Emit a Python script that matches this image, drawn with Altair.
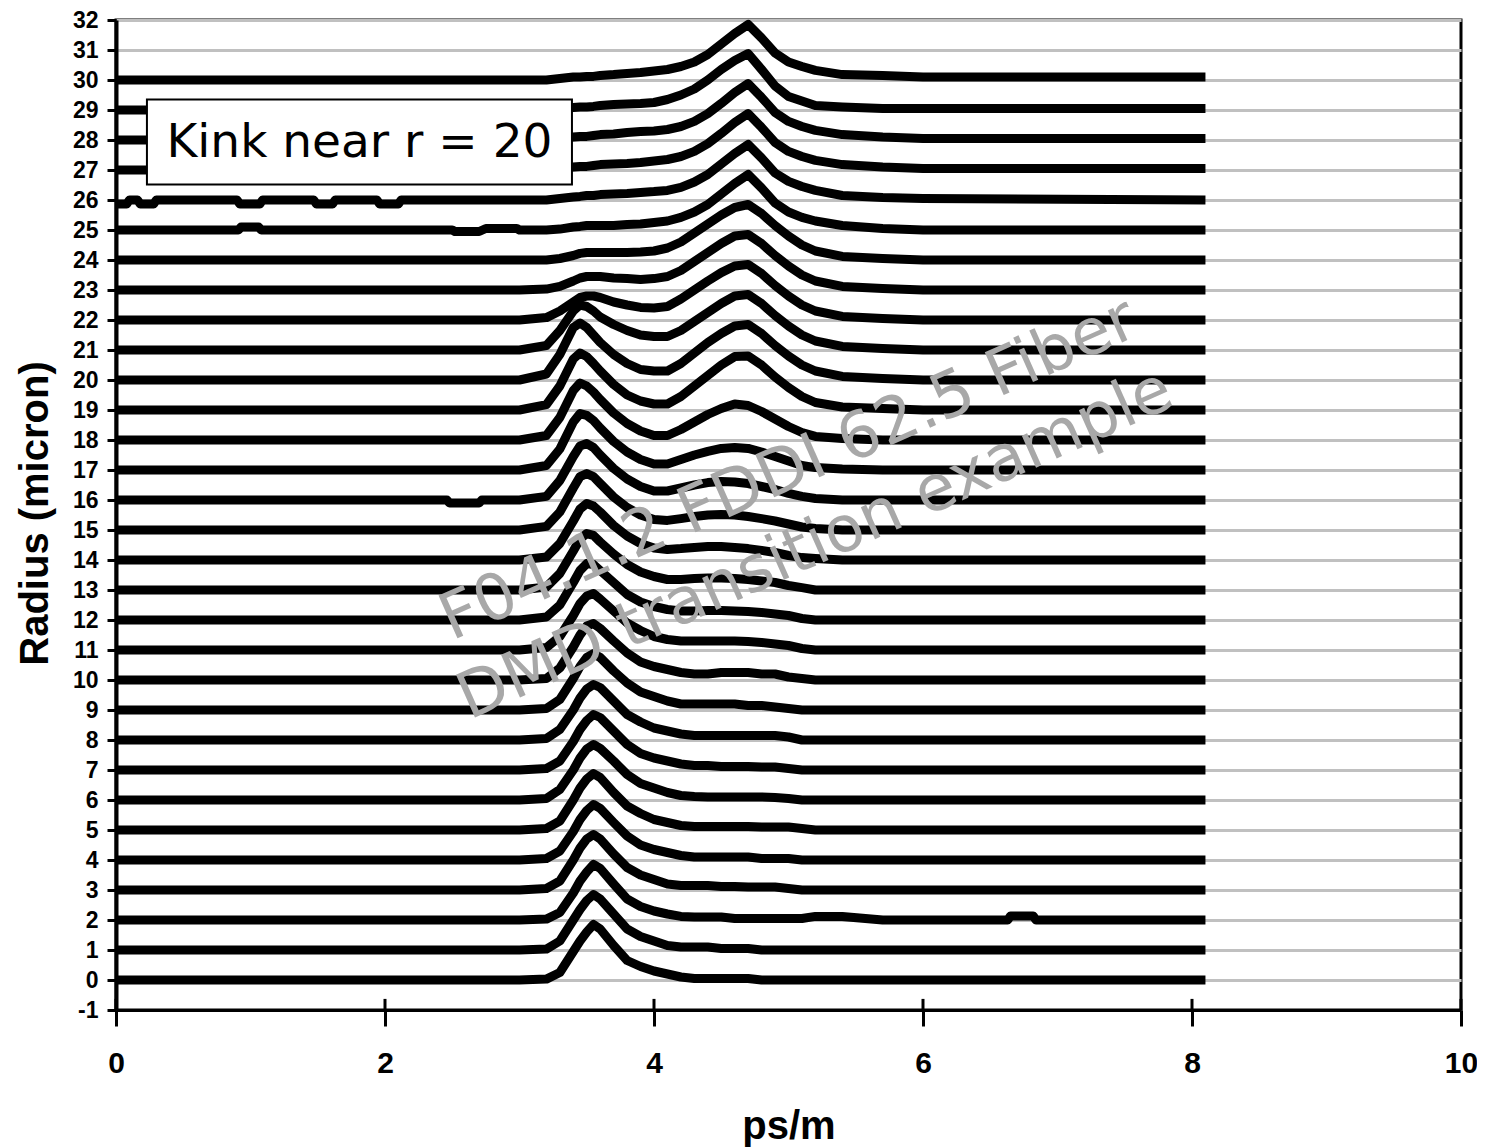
import altair as alt
import pandas as pd

# ---- data -------------------------------------------------------------
# common x grid (ps/m)
X_GRID = [0.0, 3.0, 3.2, 3.3, 3.4, 3.45, 3.5, 3.55, 3.6, 3.7, 3.8, 3.9, 4.0, 4.1,
          4.2, 4.3, 4.4, 4.5, 4.6, 4.7, 4.8, 4.9, 5.0, 5.1, 5.2, 5.4, 5.7, 6.0, 8.1]

# height of each trace above its radius baseline
H_R00 = [0,0,0.03,0.25,0.95,1.3,1.6,1.85,1.7,1.15,0.65,0.45,0.3,0.2,0.1,0.05,0.05,0.05,0.05,0.05,0,0,0,0,0,0,0,0,0]
H_R01 = [0,0,0.03,0.3,1.0,1.35,1.65,1.85,1.7,1.2,0.7,0.45,0.3,0.15,0.1,0.1,0.1,0.05,0.05,0.05,0,0,0,0,0,0,0,0,0]
H_R02 = [0,0,0.03,0.25,0.9,1.3,1.6,1.85,1.72,1.2,0.7,0.45,0.3,0.2,0.12,0.1,0.1,0.1,0.05,0.05,0.05,0.05,0.05,0.05,0.12,0.12,0,0,0]
H_R03 = [0,0,0.05,0.3,1.0,1.4,1.7,1.85,1.7,1.2,0.75,0.5,0.35,0.2,0.15,0.15,0.15,0.12,0.12,0.1,0.1,0.1,0.05,0,0,0,0,0,0]
H_R04 = [0,0,0.05,0.3,0.95,1.35,1.65,1.85,1.72,1.25,0.8,0.5,0.35,0.25,0.15,0.1,0.1,0.1,0.1,0.1,0.05,0.05,0.05,0,0,0,0,0,0]
H_R05 = [0,0,0.05,0.3,1.0,1.4,1.7,1.88,1.75,1.25,0.8,0.55,0.35,0.25,0.15,0.12,0.12,0.12,0.12,0.12,0.1,0.1,0.1,0.05,0,0,0,0,0]
H_R06 = [0,0,0.05,0.35,1.0,1.4,1.7,1.85,1.72,1.3,0.85,0.55,0.4,0.25,0.15,0.12,0.1,0.1,0.1,0.1,0.1,0.08,0.05,0,0,0,0,0,0]
H_R07 = [0,0,0.05,0.3,0.95,1.35,1.65,1.85,1.75,1.3,0.85,0.55,0.4,0.3,0.2,0.15,0.15,0.12,0.12,0.12,0.1,0.1,0.05,0,0,0,0,0,0]
H_R08 = [0,0,0.05,0.35,1.0,1.4,1.7,1.85,1.75,1.3,0.85,0.6,0.4,0.3,0.2,0.15,0.15,0.15,0.15,0.15,0.15,0.15,0.1,0,0,0,0,0,0]
H_R09 = [0,0,0.05,0.35,1.05,1.45,1.75,1.88,1.75,1.3,0.9,0.6,0.45,0.3,0.2,0.2,0.2,0.2,0.2,0.15,0.15,0.1,0.05,0,0,0,0,0,0]
H_R10 = [0,0,0.05,0.4,1.1,1.5,1.8,1.88,1.72,1.3,0.9,0.6,0.45,0.35,0.25,0.2,0.2,0.25,0.25,0.25,0.2,0.2,0.1,0.05,0,0,0,0,0]
H_R11 = [0,0,0.08,0.45,1.15,1.55,1.8,1.88,1.7,1.3,0.9,0.65,0.45,0.35,0.3,0.3,0.3,0.3,0.3,0.28,0.25,0.2,0.15,0.05,0,0,0,0,0]
H_R12 = [0,0,0.1,0.5,1.25,1.65,1.88,1.85,1.65,1.25,0.85,0.6,0.45,0.35,0.3,0.3,0.32,0.32,0.3,0.28,0.25,0.2,0.15,0.05,0,0,0,0,0]
H_R13 = [0,0,0.1,0.55,1.3,1.7,1.88,1.82,1.6,1.2,0.85,0.6,0.45,0.35,0.35,0.38,0.4,0.4,0.38,0.35,0.3,0.25,0.15,0.08,0,0,0,0,0]
H_R14 = [0,0,0.1,0.55,1.3,1.7,1.88,1.8,1.6,1.15,0.8,0.55,0.4,0.35,0.38,0.42,0.45,0.45,0.42,0.38,0.32,0.25,0.15,0.08,0.05,0,0,0,0]
H_R15 = [0,0,0.12,0.6,1.4,1.78,1.88,1.78,1.55,1.1,0.75,0.5,0.35,0.32,0.38,0.45,0.5,0.52,0.5,0.45,0.38,0.3,0.2,0.1,0.05,0,0,0,0]
H_R16 = [0,0,0.12,0.65,1.45,1.8,1.88,1.75,1.5,1.05,0.7,0.45,0.3,0.3,0.4,0.5,0.58,0.62,0.6,0.55,0.45,0.35,0.22,0.12,0.05,0,0,0,0]
H_R17 = [0,0,0.15,0.7,1.6,1.88,1.82,1.65,1.4,0.95,0.6,0.35,0.2,0.2,0.35,0.5,0.62,0.72,0.75,0.72,0.6,0.45,0.3,0.15,0.08,0.03,0,0,0]
H_R18 = [0,0,0.15,0.75,1.65,1.9,1.8,1.6,1.35,0.9,0.55,0.3,0.15,0.15,0.35,0.6,0.85,1.05,1.2,1.15,0.95,0.7,0.45,0.25,0.12,0.05,0,0,0]
H_R19 = [0,0,0.18,0.8,1.7,1.9,1.78,1.55,1.3,0.85,0.5,0.3,0.2,0.2,0.45,0.8,1.15,1.5,1.78,1.8,1.5,1.1,0.75,0.45,0.25,0.1,0.05,0,0]
H_R20 = [0,0,0.2,0.85,1.75,1.9,1.75,1.5,1.25,0.85,0.55,0.35,0.3,0.3,0.55,0.9,1.25,1.55,1.8,1.85,1.55,1.15,0.8,0.5,0.3,0.12,0.05,0,0]
H_R21 = [0,0,0.15,0.65,1.3,1.5,1.45,1.3,1.1,0.85,0.65,0.5,0.45,0.45,0.65,0.95,1.25,1.55,1.8,1.85,1.55,1.15,0.8,0.5,0.3,0.12,0.05,0,0]
H_R22 = [0,0,0.08,0.3,0.6,0.75,0.8,0.8,0.75,0.6,0.5,0.42,0.4,0.45,0.7,1.0,1.3,1.58,1.8,1.85,1.55,1.15,0.8,0.5,0.3,0.12,0.05,0,0]
H_R23 = [0,0,0.03,0.12,0.3,0.4,0.45,0.45,0.45,0.4,0.38,0.35,0.38,0.45,0.65,0.95,1.25,1.55,1.8,1.85,1.55,1.15,0.8,0.5,0.3,0.12,0.05,0,0]
H_R24 = [0,0,0,0.05,0.15,0.22,0.25,0.25,0.25,0.25,0.25,0.27,0.3,0.4,0.6,0.9,1.2,1.5,1.75,1.85,1.55,1.15,0.8,0.5,0.3,0.12,0.05,0,0]
H_R25 = [0,0,0,0.03,0.1,0.12,0.15,0.15,0.15,0.15,0.18,0.2,0.25,0.3,0.42,0.6,0.85,1.2,1.55,1.85,1.4,0.9,0.6,0.42,0.3,0.15,0.05,0,0]
H_R26 = [0,0,0,0.05,0.1,0.12,0.15,0.15,0.18,0.2,0.22,0.25,0.28,0.32,0.42,0.6,0.85,1.2,1.55,1.85,1.4,0.9,0.62,0.45,0.32,0.15,0.08,0.05,0]
H_R27 = [0,0,0,0.05,0.1,0.12,0.12,0.15,0.18,0.2,0.22,0.25,0.3,0.35,0.45,0.62,0.88,1.22,1.58,1.88,1.42,0.92,0.62,0.45,0.32,0.18,0.1,0.05,0.05]
H_R28 = [0,0,0,0.05,0.1,0.12,0.12,0.15,0.18,0.2,0.25,0.28,0.3,0.35,0.45,0.62,0.88,1.22,1.58,1.88,1.42,0.92,0.62,0.45,0.32,0.18,0.1,0.05,0.05]
H_R29 = [0,0,0,0.05,0.08,0.1,0.1,0.12,0.15,0.18,0.2,0.22,0.25,0.35,0.5,0.7,1.0,1.35,1.65,1.88,1.35,0.8,0.45,0.3,0.15,0.1,0.05,0.05,0.05]
H_R30 = [0,0,0,0.05,0.1,0.1,0.12,0.12,0.15,0.18,0.22,0.25,0.3,0.35,0.45,0.6,0.85,1.2,1.55,1.85,1.4,0.9,0.6,0.45,0.32,0.18,0.15,0.1,0.1]

HEIGHTS = [H_R00, H_R01, H_R02, H_R03, H_R04, H_R05, H_R06, H_R07, H_R08, H_R09,
           H_R10, H_R11, H_R12, H_R13, H_R14, H_R15, H_R16, H_R17, H_R18, H_R19,
           H_R20, H_R21, H_R22, H_R23, H_R24, H_R25, H_R26, H_R27, H_R28, H_R29, H_R30]
RADII = list(range(0, 31))

# small glitches in the flat parts of a few traces: (x, height above baseline)
GLITCH_R02 = [(6.63, 0.0), (6.65, 0.13), (6.82, 0.13), (6.84, 0.0)]
GLITCH_R16 = [(2.46, 0.0), (2.48, -0.1), (2.7, -0.1), (2.72, 0.0)]
GLITCH_R25 = [(0.91, 0.0), (0.93, 0.1), (1.06, 0.1), (1.08, 0.0),
              (2.5, 0.0), (2.52, -0.05), (2.7, -0.05), (2.75, 0.05), (2.98, 0.05)]
GLITCH_R26 = [(0.0, -0.13), (0.08, -0.13), (0.1, 0.0), (0.16, 0.0), (0.18, -0.13),
              (0.28, -0.13), (0.3, 0.0), (0.9, 0.0), (0.92, -0.13), (1.07, -0.13),
              (1.09, 0.0), (1.47, 0.0), (1.49, -0.13), (1.61, -0.13), (1.63, 0.0),
              (1.94, 0.0), (1.96, -0.13), (2.1, -0.13), (2.12, 0.0)]
GLITCHES = {2: GLITCH_R02, 16: GLITCH_R16, 25: GLITCH_R25, 26: GLITCH_R26}

Y_TICKS = list(range(-1, 33))
X_TICKS = [0, 2, 4, 6, 8, 10]

NOTE_TEXT = "Kink near r = 20"
WATERMARK_1 = "F04.1.2 FDDI 62.5 Fiber"
WATERMARK_2 = "DMD transition example"

# ---- build table --------------------------------------------------------
rows = []
for r, hs in zip(RADII, HEIGHTS):
    pts = dict(zip(X_GRID, hs))
    for gx, gh in GLITCHES.get(r, []):
        pts[gx] = gh
    for x in sorted(pts):
        rows.append({"x": x, "radius": r, "y": r + pts[x]})
df = pd.DataFrame(rows)
ticks_df = pd.DataFrame({"x": X_TICKS})
one = ticks_df.head(1)

W, H = 1345, 990
xscale = alt.Scale(domain=[0, 10], nice=False, zero=False)
yscale = alt.Scale(domain=[-1, 32], nice=False, zero=False)

x_axis = alt.Axis(
    values=X_TICKS, title="ps/m", grid=False,
    labelExpr="'' + datum.value", labelFlush=False, labelOverlap=False,
    labelFont="Liberation Sans", labelFontWeight="bold", labelFontSize=30,
    labelColor="black", labelPadding=22,
    tickSize=16, tickWidth=3, tickColor="black",
    domainColor="black", domainWidth=3,
    titleFont="Liberation Sans", titleFontWeight="bold", titleFontSize=40,
    titleColor="black", titleY=116, titleBaseline="middle",
)
y_axis = alt.Axis(
    values=Y_TICKS, title="Radius (micron)", grid=True,
    gridColor="#c0c0c0", gridWidth=3,
    labelExpr="'' + datum.value", labelOverlap=False, labelFlush=False,
    labelSeparation=0,
    labelFont="Liberation Sans", labelFontWeight="bold", labelFontSize=23,
    labelColor="black", labelPadding=9,
    tickSize=9, tickWidth=3, tickColor="black",
    domainColor="black", domainWidth=4,
    titleFont="Liberation Sans", titleFontWeight="bold", titleFontSize=40,
    titleColor="black", titleX=-81, titleY=493, titleBaseline="middle",
    titleAngle=270,
)

traces = alt.Chart(df).mark_line(
    color="black", strokeWidth=9, strokeJoin="round", strokeCap="butt"
).encode(
    x=alt.X("x:Q", scale=xscale, axis=x_axis),
    y=alt.Y("y:Q", scale=yscale, axis=y_axis),
    detail="radius:N",
    order="x:Q",
)

inner_ticks = alt.Chart(ticks_df).mark_rule(color="black", strokeWidth=3).encode(
    x=alt.X("x:Q", scale=xscale, axis=x_axis),
    y=alt.Y(datum=-1, scale=yscale, axis=y_axis),
    y2=alt.datum(-0.63),
)

note_box = alt.Chart(one).mark_rect(
    fill="white", stroke="black", strokeWidth=2
).encode(
    x=alt.X(datum=0.23, scale=xscale, axis=x_axis), x2=alt.datum(3.39),
    y=alt.Y(datum=29.35, scale=yscale, axis=y_axis), y2=alt.datum(26.52),
)
note_text = alt.Chart(one).mark_text(
    text=NOTE_TEXT, font="DejaVu Sans", fontSize=47, color="black",
    align="center", baseline="middle",
).encode(
    x=alt.X(datum=1.81, scale=xscale, axis=x_axis),
    y=alt.Y(datum=27.9, scale=yscale, axis=y_axis),
)

wm1 = alt.Chart(one).mark_text(
    text=WATERMARK_1, font="DejaVu Sans", fontSize=64, color="#a8a8a8",
    align="center", baseline="middle", angle=336,
).encode(
    x=alt.X(datum=5.0, scale=xscale, axis=x_axis),
    y=alt.Y(datum=17.0, scale=yscale, axis=y_axis),
)
wm2 = alt.Chart(one).mark_text(
    text=WATERMARK_2, font="DejaVu Sans", fontSize=64, color="#a8a8a8",
    align="center", baseline="middle", angle=336,
).encode(
    x=alt.X(datum=5.2, scale=xscale, axis=x_axis),
    y=alt.Y(datum=14.5, scale=yscale, axis=y_axis),
)

chart = alt.layer(traces, inner_ticks, note_box, note_text, wm1, wm2).properties(
    width=W, height=H,
    background="white",
    padding={"left": 108, "top": 12, "right": 16, "bottom": 137},
    autosize=alt.AutoSizeParams(type="none"),
).configure_view(
    stroke="black", strokeWidth=3
).configure_axisY(
    labelOverlap=False, labelSeparation=0
).configure_axisX(
    labelOverlap=False
)

chart.save("out.html", embed_options={"renderer": "svg", "actions": False})
